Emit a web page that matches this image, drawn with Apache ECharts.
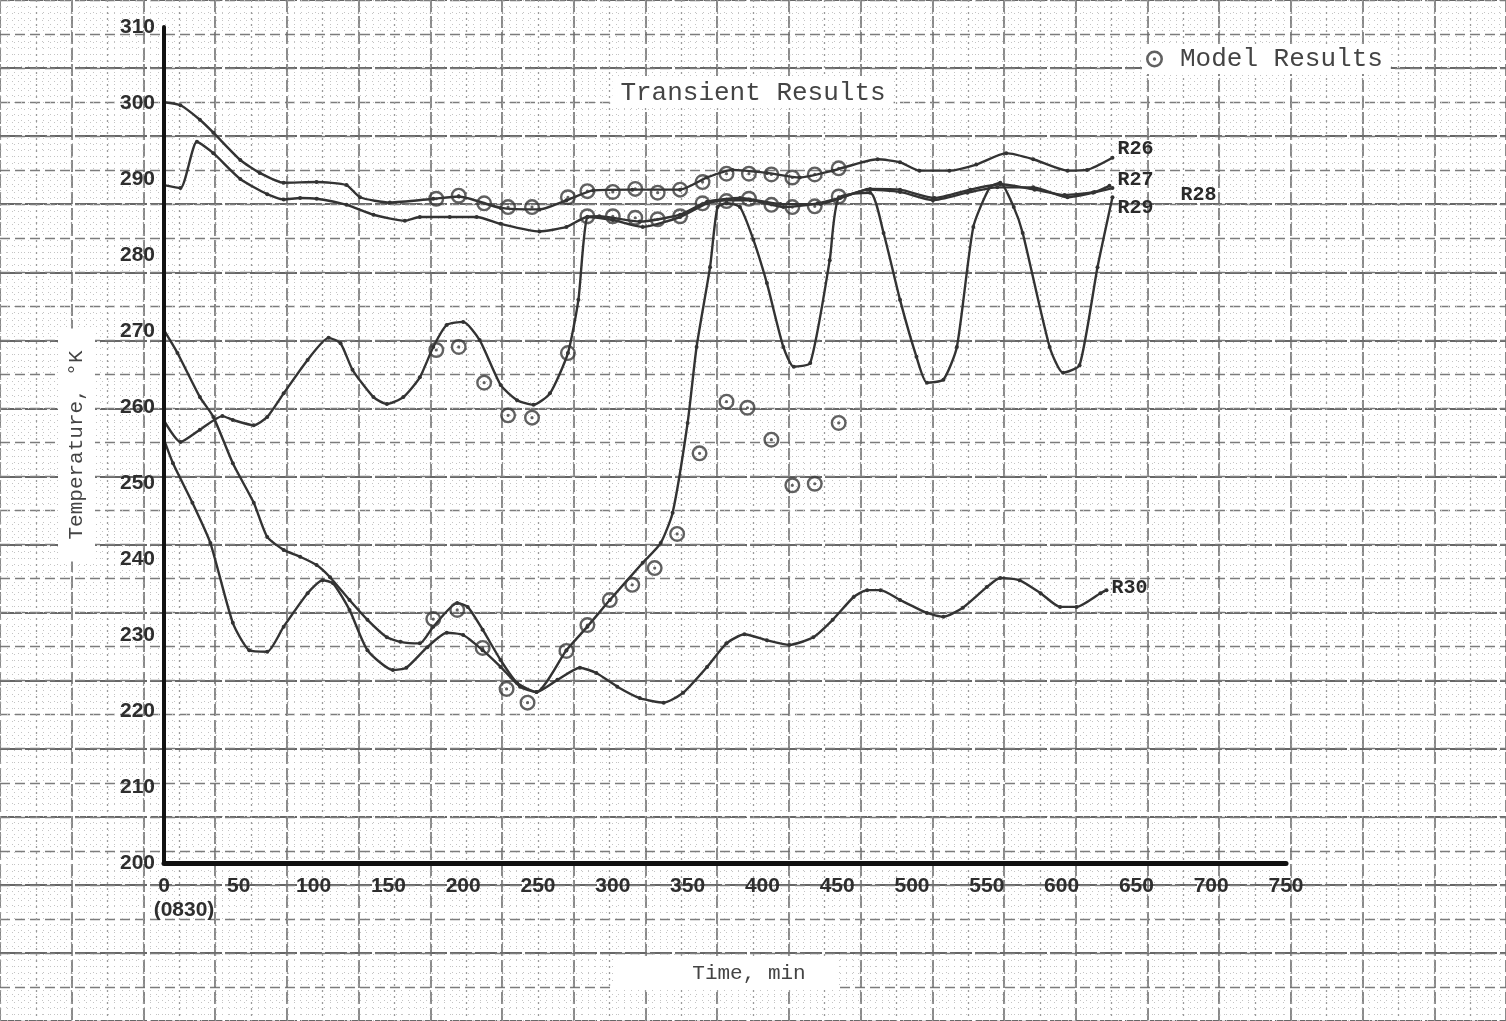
<!DOCTYPE html>
<html>
<head>
<meta charset="utf-8">
<title>Transient Results</title>
<script src="https://cdn.jsdelivr.net/npm/echarts@6/dist/echarts.min.js"></script>
<style>
  html, body { margin: 0; padding: 0; background: #ffffff; }
  #chart { width: 1506px; height: 1021px; }
</style>
</head>
<body>
<div id="chart"></div>
<script>
// ---- Tick labels ----
const xTicks = [0, 50, 100, 150, 200, 250, 300, 350, 400, 450, 500, 550, 600, 650, 700, 750];
const yTicks = [200, 210, 220, 230, 240, 250, 260, 270, 280, 290, 300, 310];
const startClock = '(0830)';

// ---- Measured temperatures, [time (min), temperature (K)] ----
const r26 = [[0,300.1],[11,299.7],[24,297.8],[33,296.1],[51,292.5],[64,290.8],[80,289.5],[102,289.6],[122,289.2],[131,287.6],[151,286.9],[180,287.4],[197,287.7],[225,286.2],[251,286.0],[269,287.2],[287,288.5],[313,288.6],[345,288.6],[363,290.2],[380,291.2],[403,290.8],[425,290.2],[447,291.1],[477,292.6],[492,292.2],[505,291.1],[525,291.1],[543,291.9],[563,293.4],[581,292.6],[604,291.1],[617,291.2],[634,292.8]];

const r27 = [[0,289.2],[11,288.8],[22,294.9],[33,293.4],[51,290.0],[69,288.0],[80,287.3],[91,287.5],[102,287.4],[122,286.6],[140,285.3],[161,284.5],[171,285.0],[191,285.0],[209,285.0],[225,284.1],[251,283.1],[269,283.7],[283,285.0],[300,284.6],[320,283.7],[345,285.0],[363,286.8],[376,287.2],[392,287.2],[414,286.3],[437,286.8],[452,287.5],[470,288.6],[492,288.3],[514,287.2],[537,288.2],[557,288.9],[581,288.9],[604,287.6],[621,288.2],[634,288.8]];

const r28 = [[0,258.2],[11,255.4],[24,257.0],[39,258.8],[46,258.3],[60,257.6],[69,258.7],[80,261.8],[96,266.2],[110,269.1],[118,268.4],[126,264.9],[140,261.3],[149,260.4],[160,261.3],[171,263.9],[180,267.9],[189,270.8],[200,271.2],[211,268.8],[225,262.9],[236,260.9],[247,260.3],[258,261.8],[270,267.1],[277,274.1],[283,285.0],[291,285.1],[318,284.4],[345,285.3],[363,287.0],[385,287.5],[412,286.7],[439,286.7],[455,287.7],[472,288.7],[492,288.6],[515,287.5],[539,288.6],[559,289.3],[582,288.6],[602,287.9],[622,288.3],[632,289.1]];

const r29 = [[0,270.1],[9,267.1],[24,261.3],[33,258.7],[46,252.6],[60,247.4],[69,242.9],[80,241.2],[91,240.3],[102,239.2],[111,237.6],[124,234.6],[136,232.0],[149,229.7],[158,229.1],[171,228.9],[180,231.1],[196,234.2],[203,233.7],[213,230.7],[225,226.7],[236,223.7],[249,222.5],[269,228.0],[283,231.1],[298,234.6],[320,239.5],[332,242.1],[340,246.1],[350,257.9],[356,267.9],[365,278.4],[370,286.3],[376,286.8],[385,286.3],[394,282.0],[403,276.3],[414,267.9],[421,265.3],[432,265.8],[445,279.3],[451,287.5],[472,288.2],[481,282.9],[492,274.1],[503,266.6],[510,263.2],[521,263.6],[530,267.9],[541,283.7],[552,288.9],[559,289.5],[568,286.3],[574,282.9],[592,267.9],[601,264.5],[612,265.5],[624,278.4],[634,287.6]];

const r30 = [[0,255.7],[6,252.6],[19,247.4],[31,242.1],[46,231.6],[57,228.0],[69,227.8],[80,231.1],[96,235.5],[106,237.2],[113,236.8],[124,233.3],[136,228.0],[153,225.4],[162,225.7],[176,228.4],[189,230.3],[200,230.0],[213,228.0],[225,225.8],[238,223.2],[249,222.5],[263,224.1],[278,225.7],[289,225.0],[303,223.2],[318,221.7],[334,221.1],[347,222.4],[363,225.8],[376,228.9],[388,230.1],[403,229.3],[418,228.7],[434,229.7],[447,232.0],[461,235.0],[470,235.9],[479,235.9],[492,234.6],[510,232.9],[521,232.4],[534,233.6],[550,236.3],[559,237.5],[572,237.2],[586,235.5],[599,233.7],[610,233.7],[626,235.5],[630,235.9]];

// ---- Model results, [time (min), temperature (K)] ----
const modelUpper = [[182,287.4],[197,287.8],[214,286.8],[230,286.3],[246,286.3],[270,287.6],[283,288.4],[300,288.3],[315,288.7],[330,288.2],[345,288.6],[360,289.6],[376,290.7],[391,290.7],[406,290.6],[420,290.2],[435,290.6],[451,291.4]];
const modelSecond = [[283,285.1],[300,285.1],[315,284.9],[330,284.7],[345,285.1],[360,286.8],[376,287.1],[391,287.4],[406,286.6],[420,286.3],[435,286.4],[451,287.7]];
const modelMiddle = [[182,267.5],[197,267.9],[214,263.2],[230,258.9],[246,258.6],[270,267.1],[358,253.9],[376,260.7],[390,259.9],[406,255.7],[420,249.7],[435,249.9],[451,257.9]];
const modelLower = [[180,232.1],[196,233.3],[213,228.3],[229,222.9],[243,221.1],[269,227.9],[283,231.3],[298,234.6],[313,236.6],[328,238.8],[343,243.3]];

// ---- Layout ----
const W = 1506, H = 1021;
const plot = { left: 164, right: 220, top: 27, bottom: 158 };
const X_RANGE = [0, 750], Y_RANGE = [200, 310];
const pxPerMin = (W - plot.left - plot.right) / (X_RANGE[1] - X_RANGE[0]);
const pxPerDeg = (H - plot.top - plot.bottom) / (Y_RANGE[1] - Y_RANGE[0]);

// graph paper spans the whole sheet, on the same scales as the plot
const PAPER_X = [-150, 900], PAPER_Y = [170, 320];
const paperRect = {
  left: plot.left + (PAPER_X[0] - X_RANGE[0]) * pxPerMin,
  right: W - (plot.left + (PAPER_X[1] - X_RANGE[0]) * pxPerMin),
  top: plot.top - (PAPER_Y[1] - Y_RANGE[1]) * pxPerDeg,
  bottom: plot.bottom - (Y_RANGE[0] - PAPER_Y[0]) * pxPerDeg
};

const INK = '#333333';
const TYPE = "'Liberation Mono', 'DejaVu Sans Mono', monospace";
const TICK_FONT = "'Liberation Sans', 'Arimo', sans-serif";

// bull's-eye marker used for the model results
const RING = 'path://M0,10A10,10,0,1,1,20,10A10,10,0,1,1,0,10ZM3,10A7,7,0,1,0,17,10A7,7,0,1,0,3,10ZM8,10A2,2,0,1,1,12,10A2,2,0,1,1,8,10Z';

function paperAxis(kind, range, interval, opts) {
  return Object.assign({
    type: 'value', min: range[0], max: range[1], interval: interval,
    axisLine: { show: false }, axisTick: { show: false }, axisLabel: { show: false },
    z: -1
  }, opts, { gridIndex: kind });
}

function lineSeries(name, data, endOffset) {
  return {
    name: name, type: 'line', data: data,
    xAxisIndex: 0, yAxisIndex: 0,
    smooth: 0.2,
    symbol: 'circle', symbolSize: 4, showSymbol: true,
    itemStyle: { color: INK },
    lineStyle: { color: INK, width: 2.4 },
    endLabel: {
      show: true, formatter: '{a}', offset: endOffset, distance: 5,
      fontFamily: TYPE, fontWeight: 'bold', fontSize: 20, color: '#2a2a2a'
    },
    emphasis: { disabled: true },
    z: 3
  };
}

const chart = echarts.init(document.getElementById('chart'), null, { renderer: 'canvas' });

chart.setOption({
  animation: false,
  backgroundColor: '#ffffff',
  title: {
    text: 'Transient Results', left: 'center', top: 78,
    backgroundColor: '#ffffff', padding: [2, 8],
    textStyle: { fontFamily: TYPE, fontSize: 26, fontWeight: 'normal', color: '#444' }
  },
  legend: {
    data: [{ name: 'Model Results', icon: RING }],
    left: 1142, top: 44,
    itemWidth: 17, itemHeight: 17,
    backgroundColor: '#ffffff', padding: [2, 8, 2, 4],
    textStyle: { fontFamily: TYPE, fontSize: 26, color: '#444', padding: [0, 0, 0, 12] },
    selectedMode: false
  },
  grid: [
    { left: plot.left, right: plot.right, top: plot.top, bottom: plot.bottom, containLabel: false },
    Object.assign({ containLabel: false }, paperRect),
    Object.assign({ containLabel: false }, paperRect)
  ],
  xAxis: [
    {
      type: 'value', gridIndex: 0, min: X_RANGE[0], max: X_RANGE[1], interval: 50,
      name: 'Time, min', nameLocation: 'middle', nameGap: 94,
      nameTextStyle: {
        fontFamily: TYPE, fontSize: 21, color: '#444',
        backgroundColor: '#ffffff', padding: [6, 30, 6, 78]
      },
      axisLine: { show: true, onZero: false, lineStyle: { color: '#111', width: 5 } },
      axisTick: { show: false },
      splitLine: { show: false },
      axisLabel: {
        margin: 13,
        customValues: xTicks,
        formatter: function (v) {
          return v === 0 ? '{a|0}\n{b|' + startClock + '}' : '{a|' + v + '}';
        },
        rich: {
          a: { fontFamily: TICK_FONT, fontWeight: 'bold', fontSize: 21, color: '#2e2e2e' },
          b: { fontFamily: TICK_FONT, fontWeight: 'bold', fontSize: 21, color: '#2e2e2e', padding: [3, 0, 0, 40] }
        }
      },
      z: 5
    },
    paperAxis(1, PAPER_X, 50, {
      splitLine: { show: true, lineStyle: { color: '#6e6e6e', width: 1.6, type: [12, 4] } }
    }),
    paperAxis(2, PAPER_X, 25, {
      splitLine: { show: true, lineStyle: { color: '#9a9a9a', width: 1.3, type: [2, 4] } },
      minorTick: { show: false, splitNumber: 5 },
      minorSplitLine: { show: true, lineStyle: { color: '#c4c4c4', width: 1, type: [1, 5] } }
    })
  ],
  yAxis: [
    {
      type: 'value', gridIndex: 0, min: Y_RANGE[0], max: Y_RANGE[1], interval: 10,
      name: 'Temperature, °K', nameLocation: 'middle', nameGap: 69, nameRotate: 90,
      nameTextStyle: {
        fontFamily: TYPE, fontSize: 21, color: '#444',
        backgroundColor: '#ffffff', padding: [8, 22, 8, 22]
      },
      axisLine: { show: true, onZero: false, lineStyle: { color: '#111', width: 4 } },
      axisTick: { show: false },
      splitLine: { show: false },
      axisLabel: {
        margin: 9,
        customValues: yTicks,
        fontFamily: TICK_FONT, fontWeight: 'bold', fontSize: 21, color: '#2e2e2e'
      },
      z: 5
    },
    paperAxis(1, PAPER_Y, 10, {
      splitLine: { show: true, lineStyle: { color: '#666', width: 1.8, type: [22, 3] } }
    }),
    paperAxis(2, PAPER_Y, 5, {
      splitLine: { show: true, lineStyle: { color: '#7c7c7c', width: 1.4, type: [10, 5] } },
      minorTick: { show: false, splitNumber: 5 },
      minorSplitLine: { show: true, lineStyle: { color: '#c4c4c4', width: 1, type: [1, 5] } }
    })
  ],
  series: [
    lineSeries('R26', r26, [0, -9]),
    lineSeries('R27', r27, [0, -8]),
    lineSeries('R28', r28, [66, 9]),
    lineSeries('R29', r29, [0, 11]),
    lineSeries('R30', r30, [0, -2]),
    {
      name: 'Model Results', type: 'scatter',
      xAxisIndex: 0, yAxisIndex: 0,
      data: modelUpper.concat(modelSecond, modelMiddle, modelLower),
      symbol: RING, symbolSize: 16,
      itemStyle: { color: '#3a3a3a' },
      emphasis: { disabled: true },
      z: 4
    }
  ]
});
</script>
</body>
</html>
